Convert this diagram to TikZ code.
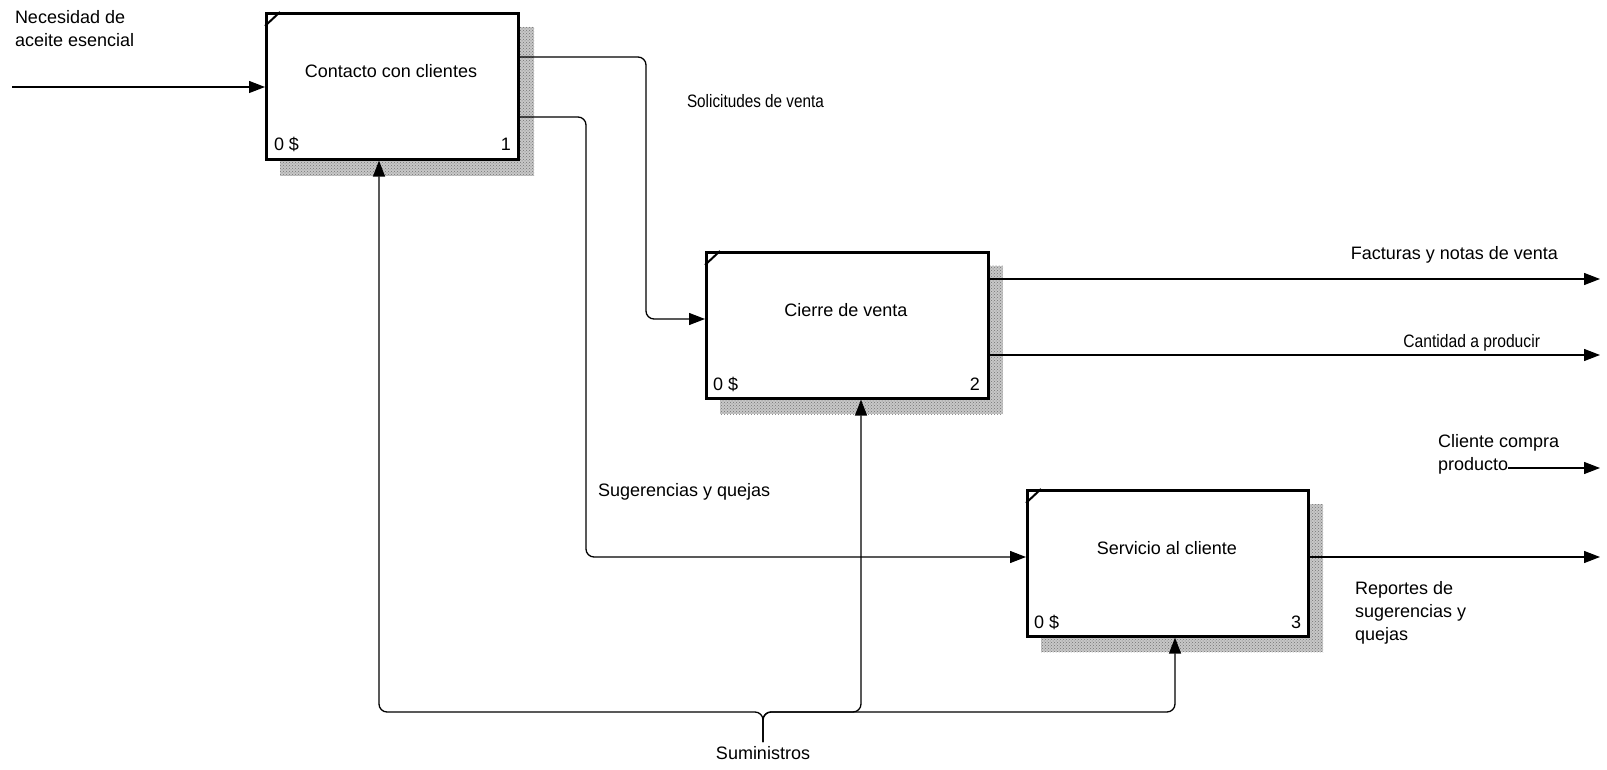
\documentclass[tikz,border=0pt]{standalone}
\usepackage{fontspec}
\setmainfont{Liberation Sans}
\usetikzlibrary{arrows.meta,patterns}

\tikzset{
  txt/.style={font=\fontsize{18}{23}\selectfont, inner sep=0pt, outer sep=0pt},
  activity/.style={draw, fill=white, line width=2.6pt, anchor=north west,
                   minimum height=146pt, inner sep=0pt},
  shade/.style={fill=black!22, postaction={pattern=crosshatch dots, pattern color=black!55}},
  flow/.style={line width=1.3pt, -{Triangle[length=16pt,width=12pt]}},
  link/.style={flow, rounded corners=8pt},
  tag/.style={line width=2pt},
}

\begin{document}
\begin{tikzpicture}[x=1pt,y=-1pt]
\useasboundingbox (0,0) rectangle (1607,770);

% drop shadows behind the activity boxes
\path[shade] (280,27) rectangle (534,176);
\path[shade] (720,266) rectangle (1003,414);
\path[shade] (1041,504) rectangle (1323,652);

% activity boxes
\node[activity, minimum width=252pt] (b1) at (265,12) {};
\node[activity, minimum width=282pt] (b2) at (705,251) {};
\node[activity, minimum width=281pt] (b3) at (1026,489) {};

% corner tags
\draw[tag] (265,26) -- (280,12);
\draw[tag] (705,265) -- (720,251);
\draw[tag] (1026,503) -- (1041,489);

% box titles and footers
\node[txt] (b1t) at (391,71) {Contacto con clientes};
\node[txt] (b2t) at (846,310) {Cierre de venta};
\node[txt] (b3t) at (1167,548) {Servicio al cliente};
\node[txt, anchor=base west] (b1c) at (274,151) {0 \$};
\node[txt, anchor=base east] (b1n) at (511,151) {1};
\node[txt, anchor=base west] (b2c) at (713,390) {0 \$};
\node[txt, anchor=base east] (b2n) at (980,390) {2};
\node[txt, anchor=base west] (b3c) at (1034,628) {0 \$};
\node[txt, anchor=base east] (b3n) at (1301,628) {3};

% routing points
\coordinate (inA) at (12,87);
\coordinate (j1) at (646,57);
\coordinate (j1b) at (646,319);
\coordinate (j2) at (586,117);
\coordinate (j2b) at (586,557);
\coordinate (o2a) at (1600,279);
\coordinate (o2b) at (1600,355);
\coordinate (o3) at (1600,557);
\coordinate (cp0) at (1508,468);
\coordinate (cp1) at (1600,468);
\coordinate (bc) at (763,712);
\coordinate (s1) at (379,712);
\coordinate (s2) at (861,712);
\coordinate (s3) at (1175,712);

% arrow labels
\node[txt, anchor=north west, align=left] (nec) at (15,10) {Necesidad de\\aceite esencial};
\node[txt, anchor=base west] (sol) at (687,108) {\scalebox{0.85}[1]{Solicitudes de venta}};
\node[txt, anchor=base west] (sug) at (598,496) {Sugerencias y quejas};
\node[txt, anchor=base east] (fac) at (1558,260) {Facturas y notas de venta};
\node[txt, anchor=base east] (can) at (1540,347) {\scalebox{0.87}[1]{Cantidad a producir}};
\node[txt, anchor=north west, align=left] (cli) at (1438,434) {Cliente compra\\producto};
\node[txt, anchor=north west, align=left] (rep) at (1355,581) {Reportes de\\sugerencias y\\quejas};
\node[txt, anchor=north, inner sep=4pt] (sum) at (763,742) {Suministros};

% connectors
\draw[flow] (inA) -- (inA -| b1.west);
\draw[link] (b1.east |- j1) -- (j1) -- (j1b) -- (b2.west |- j1b);
\draw[link] (b1.east |- j2) -- (j2) -- (j2b) -- (b3.west |- j2b);
\draw[flow] (b2.east |- o2a) -- (o2a);
\draw[flow] (b2.east |- o2b) -- (o2b);
\draw[flow] (b3.east |- o3) -- (o3);
\draw[flow] (cp0) -- (cp1);

% supplies branching to every box
\draw[link] (sum.north) -- (bc) -- (s1) -- (b1.south -| s1);
\draw[link] (sum.north) -- (bc) -- (s2) -- (b2.south -| s2);
\draw[link] (sum.north) -- (bc) -- (s3) -- (b3.south -| s3);
\end{tikzpicture}
\end{document}
